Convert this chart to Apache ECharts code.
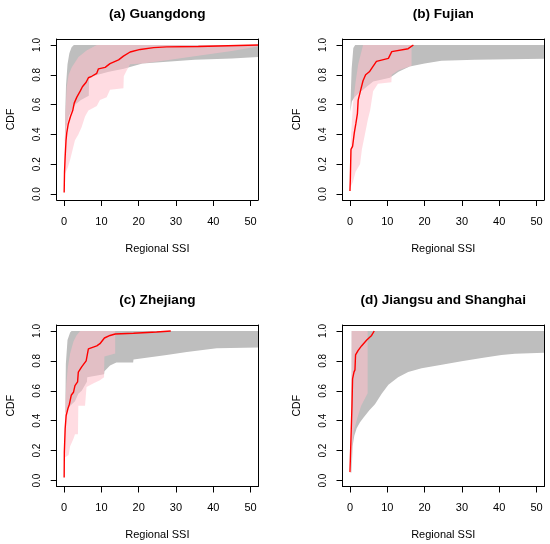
<!DOCTYPE html>
<html><head><meta charset="utf-8">
<script src="https://cdn.jsdelivr.net/npm/echarts@6/dist/echarts.min.js"></script>
<style>html,body{margin:0;padding:0;background:#fff}#c{width:550px;height:544px}</style>
</head><body><div id="c"></div><script>
const xTicks = [0, 10, 20, 30, 40, 50];
const yTicks = [0, 0.2, 0.4, 0.6, 0.8, 1.0];
const panelTitles = ['(a) Guangdong', '(b) Fujian', '(c) Zhejiang', '(d) Jiangsu and Shanghai'];
const xLabel = 'Regional SSI';
const yLabel = 'CDF';

// (a) Guangdong
const redA = [[0,0.01],[0.1,0.15],[0.27,0.25],[0.5,0.36],[0.7,0.41],[1.1,0.47],[1.7,0.52],[2.3,0.56],[2.7,0.61],[3.4,0.65],[4.3,0.69],[4.9,0.72],[5.9,0.75],[6.5,0.78],[7.4,0.79],[8.75,0.81],[9.2,0.84],[11,0.85],[12.3,0.875],[14.6,0.9],[15.9,0.925],[17.7,0.953],[20.4,0.97],[24,0.982],[27.5,0.987],[36,0.99],[52,1.0]];
const grayUpA = [[0.2,0.35],[0.3,0.55],[0.5,0.73],[0.9,0.87],[1.4,0.945],[2,0.985],[2.6,1],[52,1]];
const grayLoA = [[0.2,0.35],[0.6,0.45],[1.2,0.52],[2,0.56],[3,0.6],[4.5,0.63],[6.6,0.66],[6.7,0.78],[9,0.8],[12,0.82],[16,0.84],[21,0.875],[27.5,0.887],[35,0.9],[45,0.91],[52,0.92]];
const pinkUpA = [[0,0.12],[0.15,0.35],[0.35,0.55],[0.7,0.72],[1.2,0.8],[2.05,0.85],[3.84,0.92],[6.1,0.965],[8.75,1],[52,1]];
const pinkLoA = [[0,0.12],[0.3,0.14],[1,0.18],[1.6,0.23],[2.3,0.3],[2.9,0.36],[3.8,0.4],[4.7,0.45],[5.6,0.52],[6.5,0.56],[8.75,0.59],[9.6,0.63],[11.4,0.65],[12.3,0.7],[15.9,0.71],[16,0.79],[16.8,0.83],[17.7,0.87],[21,0.875],[27.5,0.898],[36.4,0.93],[45,0.96],[52,0.99]];

// (b) Fujian
const redB = [[0,0.02],[0.1,0.1],[0.27,0.3],[0.7,0.32],[1.16,0.41],[1.6,0.475],[2,0.54],[2.2,0.63],[2.9,0.7],[3.5,0.76],[4.2,0.8],[5.2,0.82],[6,0.85],[7.1,0.89],[10.3,0.91],[11.2,0.955],[15.6,0.975],[17,1.0]];
const grayUpB = [[0.1,0.55],[0.18,0.64],[0.45,0.84],[0.9,0.98],[1.4,1],[52,1]];
const grayLoB = [[0.1,0.55],[0.5,0.62],[1.2,0.65],[2.5,0.68],[4,0.71],[6.2,0.755],[10.7,0.78],[13,0.82],[16,0.855],[20,0.876],[24.5,0.894],[33.5,0.9],[52,0.908]];
const pinkUpB = [[0,0.04],[0.05,0.2],[0.3,0.4],[0.8,0.6],[1.5,0.75],[2.2,0.87],[3,0.95],[3.5,1],[16.5,1]];
const pinkLoB = [[0,0.04],[0.8,0.08],[1.5,0.15],[2.7,0.2],[3.2,0.3],[4,0.4],[4.8,0.5],[5.4,0.56],[6.2,0.69],[7.5,0.74],[11.1,0.75],[11.2,0.8],[13,0.83],[16.5,0.86]];

// (c) Zhejiang
const redC = [[0,0.02],[0.05,0.19],[0.27,0.346],[0.54,0.435],[1,0.48],[1.4,0.51],[1.9,0.57],[2.5,0.59],[2.9,0.635],[3.6,0.66],[3.8,0.725],[4.7,0.76],[5.9,0.8],[6.5,0.88],[8.75,0.9],[9.6,0.915],[10.8,0.953],[12.3,0.97],[13.7,0.98],[18.6,0.985],[24.8,0.993],[28.6,1.0]];
const grayUpC = [[0.3,0.45],[0.45,0.78],[0.9,0.94],[1.6,0.99],[2,1],[52,1]];
const grayLoC = [[0.3,0.45],[1.2,0.49],[2.9,0.53],[3.8,0.58],[4.7,0.6],[6.1,0.66],[6.2,0.69],[10.7,0.71],[10.8,0.73],[12.3,0.77],[14,0.79],[18.5,0.79],[18.6,0.81],[27.5,0.84],[32.9,0.86],[40.9,0.885],[52,0.89]];
const pinkUpC = [[0,0.15],[0.1,0.3],[0.3,0.5],[0.6,0.65],[1,0.76],[1.6,0.85],[2.5,0.93],[3.3,0.97],[4.3,1],[13.7,1]];
const pinkLoC = [[0,0.15],[0.27,0.156],[1.2,0.17],[1.6,0.23],[2.5,0.28],[2.9,0.31],[3.7,0.31],[3.8,0.5],[5.6,0.5],[6,0.625],[7.9,0.65],[9.6,0.67],[10.7,0.69],[10.8,0.83],[13.7,0.85]];

// (d) Jiangsu and Shanghai
const redD = [[0,0.056],[0.27,0.28],[0.54,0.5],[0.7,0.68],[1.07,0.725],[1.34,0.74],[1.5,0.84],[2.2,0.87],[3.1,0.9],[4.5,0.94],[5.8,0.97],[6.5,1]];
const grayUpD = [[0.35,0.05],[0.4,0.3],[0.45,1],[52,1]];
const grayLoD = [[0.35,0.05],[0.45,0.056],[0.7,0.23],[1.16,0.3],[1.8,0.35],[2.7,0.39],[3.6,0.42],[5.2,0.47],[6.7,0.51],[8.5,0.58],[10.3,0.64],[12.9,0.69],[15.6,0.725],[19.2,0.75],[24.6,0.775],[29.9,0.797],[35.3,0.82],[40.6,0.84],[44.2,0.848],[52,0.855]];
const pinkUpD = [[0.35,0.15],[0.4,0.5],[0.45,1],[4.74,1]];
const pinkLoD = [[0.35,0.15],[1,0.33],[2,0.42],[3,0.5],[4.74,0.584]];

const panels = [
  {red: redA, gu: grayUpA, gl: grayLoA, pu: pinkUpA, pl: pinkLoA},
  {red: redB, gu: grayUpB, gl: grayLoB, pu: pinkUpB, pl: pinkLoB},
  {red: redC, gu: grayUpC, gl: grayLoC, pu: pinkUpC, pl: pinkLoC},
  {red: redD, gu: grayUpD, gl: grayLoD, pu: pinkUpD, pl: pinkLoD}
];

const FONT = 'Liberation Sans, Arial, Helvetica, sans-serif';
const gridPos = [
  {left: 56.7, top: 39, width: 201.3, height: 161},
  {left: 342.5, top: 39, width: 201.5, height: 161},
  {left: 56.7, top: 325, width: 201.3, height: 161.5},
  {left: 342.5, top: 325, width: 201.5, height: 161.5}
];

const grids = [], xAxes = [], yAxes = [], series = [], titles = [];
gridPos.forEach((g, i) => {
  grids.push(Object.assign({show: false, containLabel: false}, g));
  titles.push({
    text: panelTitles[i], left: g.left + g.width / 2, top: g.top - 32, textAlign: 'center', padding: 0,
    textStyle: {fontFamily: FONT, fontSize: 13.6, fontWeight: 'bold', color: '#000'}
  });
});
const lineStyle = {color: '#000', width: 1};
gridPos.forEach((g, i) => {
  xAxes.push({
    type: 'value', gridIndex: i, min: -2, max: 52, z: 10,
    name: xLabel, nameLocation: 'middle', nameGap: 43,
    nameTextStyle: {fontFamily: FONT, fontSize: 11, color: '#000'},
    axisLine: {show: true, onZero: false, lineStyle: lineStyle},
    axisTick: {show: true, length: 6, lineStyle: lineStyle, customValues: xTicks},
    axisLabel: {fontFamily: FONT, fontSize: 11, color: '#000', margin: 16, customValues: xTicks},
    splitLine: {show: false}
  });
  yAxes.push({
    type: 'value', gridIndex: i, min: -0.04, max: 1.04, z: 10,
    name: yLabel, nameLocation: 'middle', nameGap: 40,
    nameTextStyle: {fontFamily: FONT, fontSize: 10.5, color: '#000'},
    axisLine: {show: true, onZero: false, lineStyle: lineStyle},
    axisTick: {show: true, length: 6, lineStyle: lineStyle, customValues: yTicks},
    axisLabel: {fontFamily: FONT, fontSize: 10, color: '#000', margin: 14, rotate: 90,
      customValues: yTicks, formatter: v => v.toFixed(1)},
    splitLine: {show: false}
  });
});
// frame (top and right sides)
gridPos.forEach((g, i) => {
  xAxes.push({type: 'value', gridIndex: i, position: 'top', min: -2, max: 52, z: 10,
    axisLine: {show: true, onZero: false, lineStyle: lineStyle}, axisTick: {show: false},
    axisLabel: {show: false}, splitLine: {show: false}});
  yAxes.push({type: 'value', gridIndex: i, position: 'right', min: -0.04, max: 1.04, z: 10,
    axisLine: {show: true, onZero: false, lineStyle: lineStyle}, axisTick: {show: false},
    axisLabel: {show: false}, splitLine: {show: false}});
});

function band(i, upper, lower, fill) {
  const pts = upper.concat(lower.slice().reverse());
  return {
    type: 'custom', xAxisIndex: i, yAxisIndex: i, silent: true, data: [0],
    renderItem: function (params, api) {
      return {type: 'polygon', shape: {points: pts.map(p => api.coord(p))}, style: {fill: fill}};
    }
  };
}
panels.forEach((p, i) => {
  series.push(band(i, p.gu, p.gl, '#BEBEBE'));
  series.push(band(i, p.pu, p.pl, 'rgba(255,192,203,0.55)'));
  series.push({
    type: 'line', xAxisIndex: i, yAxisIndex: i, data: p.red, showSymbol: false, silent: true,
    lineStyle: {color: '#FF0000', width: 1.4}
  });
});

const chart = echarts.init(document.getElementById('c'), null, {renderer: 'canvas'});
chart.setOption({
  animation: false, backgroundColor: '#fff',
  title: titles, grid: grids, xAxis: xAxes, yAxis: yAxes, series: series
});
</script></body></html>
